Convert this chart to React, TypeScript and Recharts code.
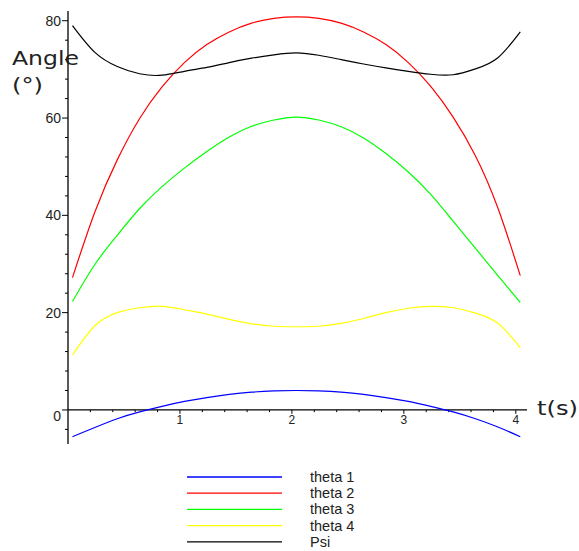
import React from 'react';
import { LineChart, Line, XAxis, YAxis, ReferenceLine, ReferenceDot } from 'recharts';

// time samples (s)
const T = [0.04, 0.24, 0.44, 0.64, 0.84, 1.04, 1.24, 1.44, 1.64, 1.84, 2.04, 2.24, 2.44, 2.64, 2.84, 3.04, 3.24, 3.44, 3.64, 3.84, 4.04];

// angles (degrees)
const THETA1 = [-5.5, -3.6, -1.8, -0.4, 0.75, 1.75, 2.55, 3.2, 3.65, 3.9, 4.0, 3.9, 3.65, 3.2, 2.55, 1.75, 0.75, -0.4, -1.8, -3.5, -5.5];
const THETA2 = [27.2, 40.7, 51.4, 59.9, 66.4, 71.4, 75.1, 77.7, 79.5, 80.5, 80.8, 80.5, 79.5, 77.7, 75.1, 71.4, 66.5, 60.2, 52.2, 41.5, 27.6];
const THETA3 = [22.3, 29.9, 35.9, 41.4, 45.9, 49.7, 53.1, 56.1, 58.3, 59.6, 60.2, 59.6, 58.2, 55.9, 52.7, 48.9, 44.3, 38.8, 33.2, 27.6, 22.1];
const THETA4 = [11.3, 17.3, 20.0, 21.0, 21.3, 20.6, 19.7, 18.6, 17.7, 17.2, 17.1, 17.2, 17.8, 18.8, 20.0, 20.9, 21.3, 21.0, 19.9, 17.8, 12.8];
const PSI = [79.0, 73.5, 70.6, 69.1, 68.8, 69.6, 70.4, 71.4, 72.3, 73.0, 73.4, 72.9, 72.0, 71.1, 70.3, 69.6, 69.0, 68.9, 70.1, 72.4, 77.7];

const SERIES_NAMES = ['theta 1', 'theta 2', 'theta 3', 'theta 4', 'Psi'];
const SERIES_KEYS = ['theta1', 'theta2', 'theta3', 'theta4', 'psi'];
const SERIES_COLORS = ['#0000ff', '#ff0000', '#00ff00', '#ffff00', '#000000'];
const SERIES_VALUES = [THETA1, THETA2, THETA3, THETA4, PSI];

// axis ticks
const X_MAJOR = [1, 2, 3, 4];
const X_MINOR = [0.2, 0.4, 0.6, 0.8, 1.2, 1.4, 1.6, 1.8, 2.2, 2.4, 2.6, 2.8, 3.2, 3.4, 3.6, 3.8];
const Y_TICKS = [-4, 0, 4, 8, 12, 16, 20, 24, 28, 32, 36, 40, 44, 48, 52, 56, 60, 64, 68, 72, 76, 80];
const Y_LABELS = [0, 20, 40, 60, 80];

const data = T.map((t, i) => {
  const row: Record<string, number> = { t };
  SERIES_KEYS.forEach((k, j) => {
    row[k] = SERIES_VALUES[j][i];
  });
  return row;
});

const FONT = 'DejaVu Sans, Verdana, sans-serif';
const TICK_FONT = 'Liberation Sans, Arial, sans-serif';
const TEXT = '#222';

const YTick = (props: any) => {
  const { x, y, payload } = props;
  const major = Y_LABELS.includes(payload.value);
  const len = major ? 6 : 3;
  return (
    <g>
      <line x1={x - len} x2={x} y1={y} y2={y} stroke="#000" strokeWidth={1} />
      {major && (
        <text
          x={x - 7}
          y={y}
          dy={payload.value === 0 ? 11 : 5}
          textAnchor="end"
          fontFamily={TICK_FONT}
          fontSize={14}
          fill={TEXT}
        >
          {payload.value}
        </text>
      )}
    </g>
  );
};

export default function App() {
  return (
    <div style={{ position: 'absolute', left: 0, top: 0, width: 579, height: 551, background: '#fff' }}>
      <LineChart
        width={579}
        height={551}
        data={data}
        margin={{ top: 11, right: 52, bottom: 107, left: 8 }}
      >
        <XAxis dataKey="t" type="number" domain={[0, 4.1]} hide />
        <YAxis
          type="number"
          domain={[-7, 82]}
          ticks={Y_TICKS}
          interval={0}
          width={60}
          tickSize={0}
          tickMargin={0}
          tick={<YTick />}
          axisLine={{ stroke: '#000', strokeWidth: 1.3 }}
          tickLine={false}
          allowDataOverflow
        />
        <ReferenceLine y={0} stroke="#000" strokeWidth={1.3} />
        {X_MINOR.map((v) => (
          <ReferenceLine
            key={'mn' + v}
            segment={[{ x: v, y: 0 }, { x: v, y: -0.45 }]}
            stroke="#000"
            strokeWidth={1}
          />
        ))}
        {X_MAJOR.map((v) => (
          <ReferenceLine
            key={'mj' + v}
            segment={[{ x: v, y: 0 }, { x: v, y: -0.8 }]}
            stroke="#000"
            strokeWidth={1}
          />
        ))}
        {X_MAJOR.map((v) => (
          <ReferenceDot
            key={'lb' + v}
            x={v}
            y={0}
            r={0}
            fill="none"
            stroke="none"
            label={{ value: String(v), position: 'bottom', offset: 6, fill: TEXT, fontSize: 12, fontFamily: TICK_FONT }}
          />
        ))}
        {SERIES_KEYS.map((k, j) => (
          <Line
            key={k}
            dataKey={k}
            name={SERIES_NAMES[j]}
            type="natural"
            stroke={SERIES_COLORS[j]}
            strokeWidth={1.2}
            dot={false}
            activeDot={false}
            isAnimationActive={false}
          />
        ))}
      </LineChart>
      <svg
        width={579}
        height={551}
        style={{ position: 'absolute', left: 0, top: 0, pointerEvents: 'none' }}
      >
        <text x={12} y={65} fontFamily={FONT} fontSize={20} fill={TEXT} textLength={67} lengthAdjust="spacingAndGlyphs">
          Angle
        </text>
        <text x={12} y={92} fontFamily={FONT} fontSize={20} fill={TEXT} textLength={31} lengthAdjust="spacingAndGlyphs">
          (°)
        </text>
        <text x={537} y={415} fontFamily={FONT} fontSize={20} fill={TEXT} textLength={41} lengthAdjust="spacingAndGlyphs">
          t(s)
        </text>
        {SERIES_NAMES.map((name, j) => (
          <g key={name}>
            <line x1={187} x2={282} y1={477 + j * 16.2} y2={477 + j * 16.2} stroke={SERIES_COLORS[j]} strokeWidth={1.3} />
            <text x={310} y={477 + j * 16.2 + 5} fontFamily={TICK_FONT} fontSize={14.5} fill={TEXT}>
              {name}
            </text>
          </g>
        ))}
      </svg>
    </div>
  );
}
